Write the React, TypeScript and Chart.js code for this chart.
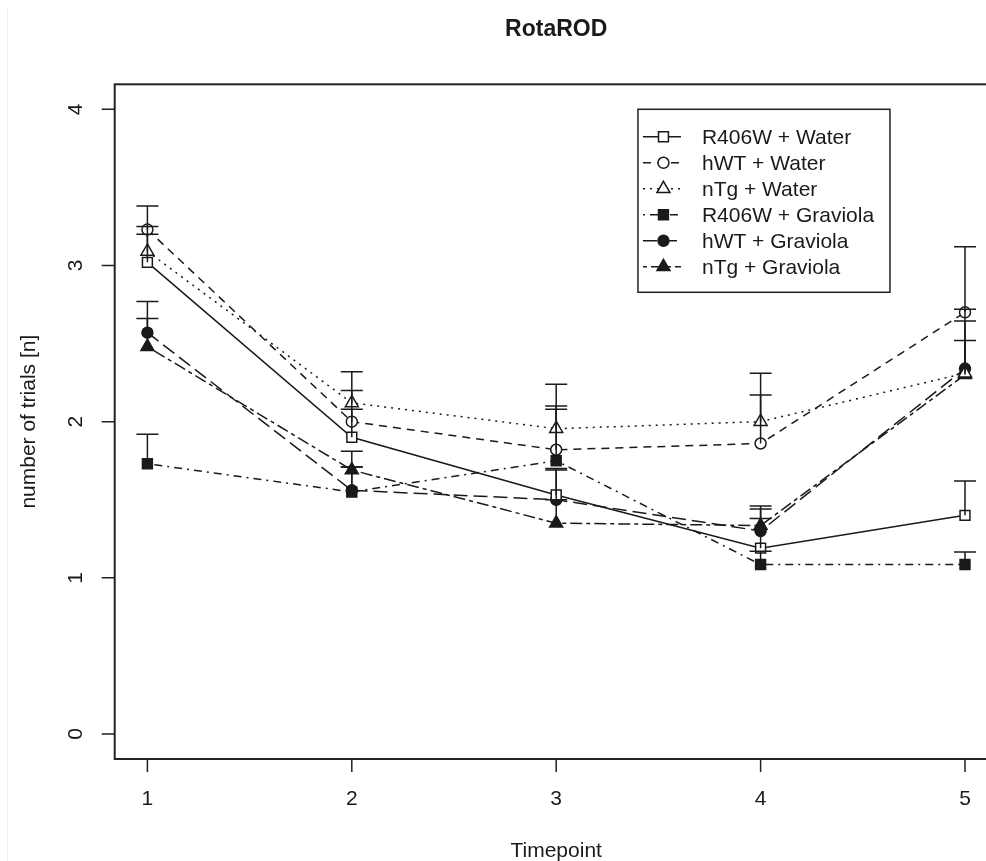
import React, { useEffect, useRef } from "react";
import { Chart, registerables } from "chart.js";

Chart.register(...registerables);

const timepoints = [1, 2, 3, 4, 5];
const xTicks = [1, 2, 3, 4, 5];
const yTicks = [0, 1, 2, 3, 4];
const seriesNames = [
  "R406W + Water",
  "hWT + Water",
  "nTg + Water",
  "R406W + Graviola",
  "hWT + Graviola",
  "nTg + Graviola",
];
const r406wWater = [3.02, 1.9, 1.53, 1.19, 1.4];
const hwtWater = [3.23, 2.0, 1.82, 1.86, 2.7];
const ntgWater = [3.09, 2.12, 1.955, 2.0, 2.31];
const r406wGraviola = [1.73, 1.55, 1.75, 1.085, 1.085];
const hwtGraviola = [2.57, 1.56, 1.5, 1.3, 2.34];
const ntgGraviola = [2.48, 1.69, 1.35, 1.335, 2.3];

const r406wWaterTop = [3.25, 2.08, 1.7, 1.38, 1.62];
const hwtWaterTop = [3.38, 2.2, 2.1, 2.17, 3.12];
const ntgWaterTop = [3.2, 2.32, 2.24, 2.31, 2.72];
const r406wGraviolaTop = [1.92, 1.71, 2.08, 1.17, 1.165];
const hwtGraviolaTop = [2.77, 1.71, 1.69, 1.46, 2.645];
const ntgGraviolaTop = [2.66, 1.81, 1.5, 1.44, 2.52];

const seriesValues = [r406wWater, hwtWater, ntgWater, r406wGraviola, hwtGraviola, ntgGraviola];
const seriesTops = [r406wWaterTop, hwtWaterTop, ntgWaterTop, r406wGraviolaTop, hwtGraviolaTop, ntgGraviolaTop];

const FONT = '"Liberation Sans", Arial, Helvetica, sans-serif';
const INK = "#1a1a1a";

type Style = { dash: number[]; marker: string; filled: boolean; r: number };
const styles: Style[] = [
  { dash: [], marker: "rect", filled: false, r: 7 },
  { dash: [8, 6], marker: "circle", filled: false, r: 5.5 },
  { dash: [2, 5], marker: "triangle", filled: false, r: 7.5 },
  { dash: [2, 5, 8, 5], marker: "rect", filled: true, r: 7 },
  { dash: [14, 6], marker: "circle", filled: true, r: 5.5 },
  { dash: [4, 4, 12, 4], marker: "triangle", filled: true, r: 7.5 },
];

function drawMarker(ctx: CanvasRenderingContext2D, s: Style, x: number, y: number) {
  ctx.save();
  ctx.setLineDash([]);
  ctx.lineWidth = 1.5;
  ctx.strokeStyle = INK;
  ctx.fillStyle = s.filled ? INK : "#ffffff";
  ctx.beginPath();
  if (s.marker === "rect") {
    const h = s.r * Math.SQRT1_2;
    ctx.rect(x - h, y - h, 2 * h, 2 * h);
  } else if (s.marker === "circle") {
    ctx.arc(x, y, s.r, 0, Math.PI * 2);
  } else {
    for (let k = 0; k < 3; k++) {
      const a = (k * 2 * Math.PI) / 3;
      const px = x + Math.sin(a) * s.r;
      const py = y - Math.cos(a) * s.r;
      if (k === 0) ctx.moveTo(px, py);
      else ctx.lineTo(px, py);
    }
    ctx.closePath();
  }
  ctx.fill();
  ctx.stroke();
  ctx.restore();
}

const decorPlugin = {
  id: "decor",
  afterDatasetsDraw(chart: any) {
    const ctx: CanvasRenderingContext2D = chart.ctx;
    const xs = chart.scales.x;
    const ys = chart.scales.y;
    const area = chart.chartArea;
    ctx.save();
    // error bars
    ctx.strokeStyle = INK;
    ctx.lineWidth = 1.5;
    ctx.setLineDash([]);
    seriesValues.forEach((vals, si) => {
      vals.forEach((v, i) => {
        const px = xs.getPixelForValue(timepoints[i]);
        const py = ys.getPixelForValue(v);
        const pt = ys.getPixelForValue(seriesTops[si][i]);
        ctx.beginPath();
        ctx.moveTo(px, py);
        ctx.lineTo(px, pt);
        ctx.moveTo(px - 11, pt);
        ctx.lineTo(px + 11, pt);
        ctx.stroke();
      });
    });
    // box
    ctx.lineWidth = 2;
    ctx.strokeStyle = "#222";
    ctx.strokeRect(area.left, area.top, area.right - area.left, area.bottom - area.top);
    // ticks
    ctx.lineWidth = 1.5;
    ctx.beginPath();
    yTicks.forEach((t) => {
      const py = ys.getPixelForValue(t);
      ctx.moveTo(area.left, py);
      ctx.lineTo(area.left - 13, py);
    });
    xTicks.forEach((t) => {
      const px = xs.getPixelForValue(t);
      ctx.moveTo(px, area.bottom);
      ctx.lineTo(px, area.bottom + 13);
    });
    ctx.stroke();
    // tick labels
    ctx.fillStyle = INK;
    ctx.font = `21px ${FONT}`;
    ctx.textAlign = "center";
    ctx.textBaseline = "middle";
    xTicks.forEach((t) => {
      ctx.fillText(String(t), xs.getPixelForValue(t), 799);
    });
    yTicks.forEach((t) => {
      ctx.save();
      ctx.translate(76, ys.getPixelForValue(t));
      ctx.rotate(-Math.PI / 2);
      ctx.fillText(String(t), 0, 0);
      ctx.restore();
    });
    // axis titles
    const cx = (area.left + area.right) / 2;
    ctx.fillText("Timepoint", cx, 851);
    ctx.save();
    ctx.translate(29, (area.top + area.bottom) / 2);
    ctx.rotate(-Math.PI / 2);
    ctx.fillText("number of trials [n]", 0, 0);
    ctx.restore();
    // title
    ctx.font = `bold 23px ${FONT}`;
    ctx.fillText("RotaROD", cx, 30);
    // legend
    const lx = xs.getPixelForValue(3.4);
    const ly = ys.getPixelForValue(4);
    const lw = 252;
    const lh = 183;
    ctx.fillStyle = "#ffffff";
    ctx.fillRect(lx, ly, lw, lh);
    ctx.lineWidth = 1.5;
    ctx.strokeStyle = "#222";
    ctx.strokeRect(lx, ly, lw, lh);
    ctx.font = `21px ${FONT}`;
    ctx.textAlign = "left";
    seriesNames.forEach((name, i) => {
      const rowY = ly + 27.5 + i * 26;
      const s = styles[i];
      ctx.save();
      ctx.strokeStyle = INK;
      ctx.lineWidth = 1.5;
      ctx.setLineDash(s.dash);
      ctx.beginPath();
      ctx.moveTo(lx + 5, rowY);
      ctx.lineTo(lx + 43, rowY);
      ctx.stroke();
      ctx.restore();
      drawMarker(ctx, s, lx + 25.5, rowY);
      ctx.fillStyle = INK;
      ctx.fillText(name, lx + 64, rowY + 1);
    });
    // faint image border
    ctx.strokeStyle = "#ececec";
    ctx.lineWidth = 1;
    ctx.beginPath();
    ctx.moveTo(7.5, 9);
    ctx.lineTo(7.5, 861);
    ctx.stroke();
    ctx.restore();
  },
};

export default function App() {
  const ref = useRef<HTMLCanvasElement | null>(null);
  useEffect(() => {
    if (!ref.current) return;
    const datasets = seriesValues.map((vals, i) => {
      const s = styles[i];
      return {
        label: seriesNames[i],
        data: vals.map((v, j) => ({ x: timepoints[j], y: v })),
        borderColor: INK,
        borderWidth: 1.5,
        borderDash: s.dash,
        tension: 0,
        fill: false,
        pointStyle: s.marker,
        pointRadius: s.r,
        pointHoverRadius: s.r,
        pointBorderWidth: 1.5,
        pointBorderColor: INK,
        pointBackgroundColor: s.filled ? INK : "#ffffff",
      };
    });
    const chart = new Chart(ref.current, {
      type: "line",
      data: { datasets },
      options: {
        animation: false,
        responsive: false,
        maintainAspectRatio: false,
        events: [],
        layout: { padding: { left: 114.7, top: 84.3, right: 12.3, bottom: 102 } },
        plugins: { legend: { display: false }, tooltip: { enabled: false }, title: { display: false } },
        scales: {
          x: { type: "linear", min: 0.84, max: 5.16, display: false },
          y: { type: "linear", min: -0.16, max: 4.16, display: false },
        },
      },
      plugins: [decorPlugin],
    });
    return () => chart.destroy();
  }, []);
  return (
    <div style={{ position: "absolute", left: 0, top: 0, width: 986, height: 861, overflow: "hidden", background: "#fff" }}>
      <canvas ref={ref} width={1010} height={861} style={{ display: "block" }} />
    </div>
  );
}
